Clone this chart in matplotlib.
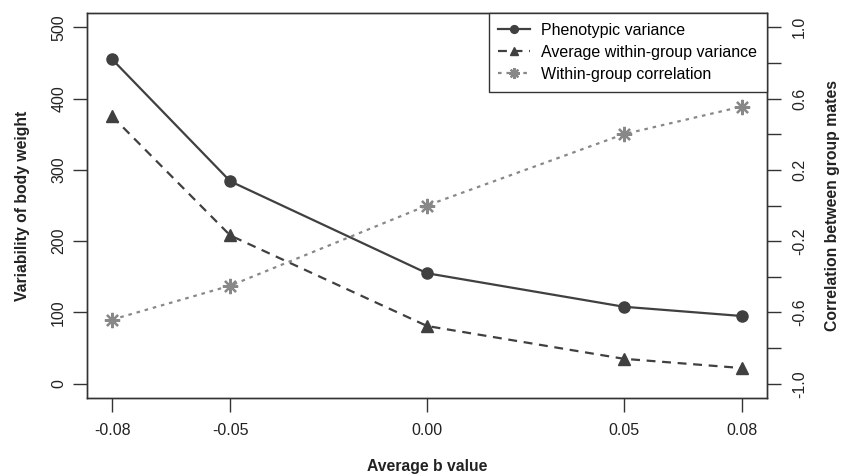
import matplotlib
matplotlib.use("Agg")
import matplotlib.pyplot as plt

plt.rcParams['font.family'] = ['Liberation Sans', 'DejaVu Sans']

# Data
b_values = [-0.08, -0.05, 0.00, 0.05, 0.08]
x_ticklabels = ["-0.08", "-0.05", "0.00", "0.05", "0.08"]
phenotypic_variance = [455, 284, 155, 108, 95]
within_group_variance = [375, 208, 81, 35, 22]
within_group_correlation = [-0.64, -0.45, 0.00, 0.40, 0.555]

left_ticks = [0, 100, 200, 300, 400, 500]
right_ticks = [-1.0, -0.8, -0.6, -0.4, -0.2, 0.0, 0.2, 0.4, 0.6, 0.8, 1.0]
right_ticklabels = ["-1.0", "", "-0.6", "", "-0.2", "", "0.2", "", "0.6", "", "1.0"]

W, H = 845, 476
fig = plt.figure(figsize=(W / 100, H / 100), dpi=100)
L, R, T, B = 87, 767, 13, 398
ax = fig.add_axes([L / W, (H - B) / H, (R - L) / W, (B - T) / H])
ax2 = ax.twinx()

dark = '#404040'
grey = '#888888'
axc = '#333333'

ax.plot(b_values, phenotypic_variance, color=dark, lw=1.6, ls='-',
        marker='o', ms=8, mfc=dark, mec=dark, label='Phenotypic variance')
ax.plot(b_values, within_group_variance, color=dark, lw=1.6, ls=(0, (4, 3)),
        marker='^', ms=8, mfc=dark, mec=dark, label='Average within-group variance')
ax2.plot(b_values, within_group_correlation, color=grey, lw=1.6, ls=(0, (1.6, 2.2)),
         marker=(8, 2, 0), ms=11, mew=1.6, mec=grey, label='Within-group correlation')

ax.set_xlim(-0.0864, 0.0864)
ax.set_ylim(-20, 520)
ax2.set_ylim(-1.08, 1.08)

ax.set_xticks(b_values)
ax.set_xticklabels(x_ticklabels)
ax.set_yticks(left_ticks)
ax.set_yticklabels([str(v) for v in left_ticks], rotation=90, va='center')
ax2.set_yticks(right_ticks)
ax2.set_yticklabels(right_ticklabels, rotation=90, va='center')

for a in (ax, ax2):
    for s in a.spines.values():
        s.set_color(axc)
        s.set_linewidth(1.0)
    a.tick_params(colors=axc, labelcolor='#222222', labelsize=11.5, length=10, width=1.0)
ax.tick_params(axis='y', pad=5)
ax.tick_params(axis='x', pad=8)
ax2.tick_params(axis='y', pad=8)

fig.text(23 / W, 1 - ((B + T) / 2) / H, 'Variability of body weight', rotation=90,
         ha='center', va='center', fontsize=11.3, fontweight='bold', color='#222222')
fig.text(833 / W, 1 - ((B + T) / 2) / H, 'Correlation between group mates', rotation=90,
         ha='center', va='center', fontsize=11.3, fontweight='bold', color='#222222')
fig.text(((L + R) / 2) / W, 1 - 467 / H, 'Average b value',
         ha='center', va='center', fontsize=11.3, fontweight='bold', color='#222222')

h1, l1 = ax.get_legend_handles_labels()
h2, l2 = ax2.get_legend_handles_labels()
leg = ax2.legend(h1 + h2, l1 + l2, loc='upper right', borderaxespad=0, fancybox=False,
                 framealpha=1, edgecolor=axc, fontsize=11.5, labelspacing=0.45,
                 handlelength=2.0, handletextpad=0.7, borderpad=0.6, markerscale=0.7)
leg.get_frame().set_linewidth(1.0)

fig.savefig('out.png', dpi=100)
